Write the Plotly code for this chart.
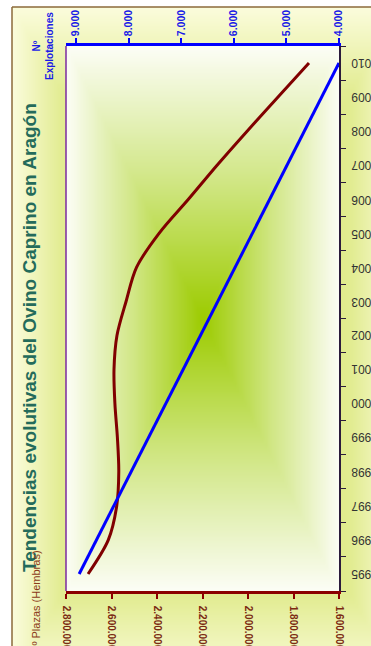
import numpy as np
import plotly.graph_objects as go

# ---------------- data ----------------
years = ["1995", "1996", "1997", "1998", "1999", "2000", "2001", "2002",
         "2003", "2004", "2005", "2006", "2007", "2008", "2009", "2010"]
plazas = [2703000, 2614000, 2577000, 2568000, 2574000, 2585000, 2589000, 2576000,
          2536000, 2490000, 2391000, 2262000, 2136000, 2004000, 1868000, 1732000]
explotaciones = [8940, 8611, 8281, 7952, 7623, 7294, 6964, 6635,
                 6306, 5976, 5647, 5318, 4988, 4659, 4329, 4000]
plazas_ticks = [1600000, 1800000, 2000000, 2200000, 2400000, 2600000, 2800000]
explot_ticks = [4000, 5000, 6000, 7000, 8000, 9000]
title_text = "Tendencias evolutivas del Ovino Caprino en Aragón"
plazas_title = "Nº Plazas (Hembras)"
explot_title = "Nº<br>Explotaciones"

# ---------------- geometry (pixels) ----------------
W, H = 371, 646
PL, PR, PT, PB = 66, 339, 46, 591
FONT = "Liberation Sans, Arial, sans-serif"

fig = go.Figure()

# chart-area background: rectangular gradient from centre
n_x, n_y = 90, 160
gx = 12 + (np.arange(n_x) + 0.5) * (W - 12) / n_x
gy = 7 + (np.arange(n_y) + 0.5) * (H - 7) / n_y
X, Y = np.meshgrid(gx, gy)
cx, cy, hw, hh = (12 + 400) / 2, (7 + 680) / 2, (400 - 12) / 2, (680 - 7) / 2
z_bg = 1 - np.maximum(np.abs(X - cx) / hw, np.abs(Y - cy) / hh)
fig.add_trace(go.Heatmap(
    x=gx, y=gy, z=z_bg, zsmooth="best", zmin=0, zmax=1, showscale=False,
    colorscale=[[0, "#fbfcdc"], [0.25, "#e2ec92"], [1, "#c4de3a"]],
    hoverinfo="skip", xaxis="x", yaxis="y"))

# plot-area background: rectangular gradient from centre
m_x, m_y = 80, 140
px = PL + (np.arange(m_x) + 0.5) * (PR - PL) / m_x
py = PT + (np.arange(m_y) + 0.5) * (PB - PT) / m_y
PX, PY = np.meshgrid(px, py)
pcx, pcy, phw, phh = (PL + PR) / 2, (PT + PB) / 2, (PR - PL) / 2, (PB - PT) / 2
z_pa = 1 - np.maximum(np.abs(PX - pcx) / phw, np.abs(PY - pcy) / phh)
fig.add_trace(go.Heatmap(
    x=px, y=py, z=z_pa, zsmooth="best", zmin=0, zmax=1, showscale=False,
    colorscale=[[0, "#fcfdf6"], [0.5, "#d0e683"], [1, "#9ccb00"]],
    hoverinfo="skip", xaxis="x", yaxis="y"))

# data lines
fig.add_trace(go.Scatter(
    x=plazas, y=years, xaxis="x2", yaxis="y2", mode="lines",
    line=dict(color="#800000", width=3, shape="spline", smoothing=0.9),
    name="Nº Plazas (Hembras)", showlegend=False))
fig.add_trace(go.Scatter(
    x=explotaciones, y=years, xaxis="x3", yaxis="y2", mode="lines",
    line=dict(color="#0000ff", width=3),
    name="Nº Explotaciones", showlegend=False))

annotations = []
for i, yr in enumerate(years):
    annotations.append(dict(
        x=349, xref="x", y=i, yref="y2", text=yr, textangle=180,
        xanchor="left", yanchor="middle", showarrow=False,
        font=dict(family=FONT, size=12, color="#333333")))
annotations.append(dict(
    x=29, y=338, xref="x", yref="y", text=title_text, textangle=-90,
    showarrow=False, xanchor="center", yanchor="middle",
    font=dict(family=FONT, size=19, color="#246b5b", weight="bold")))
annotations.append(dict(
    x=43, y=46, xref="x", yref="y", text=explot_title, textangle=-90,
    showarrow=False, xanchor="center", yanchor="middle", align="center",
    font=dict(family=FONT, size=10, color="#1a1ae6", weight="bold")))
annotations.append(dict(
    x=35, y=549, xref="x", yref="y", text=plazas_title, textangle=-90,
    showarrow=False, xanchor="center", yanchor="top",
    font=dict(family=FONT, size=11, color="#8b3a1a")))

shapes = [
    dict(type="line", xref="x", yref="y", x0=PL, x1=PL, y0=PT, y1=PB,
         line=dict(color="#7b2aa0", width=1.5)),
    dict(type="line", xref="x", yref="y", x0=12, x1=W, y0=7, y1=7,
         line=dict(color="#8b6a3a", width=1.5)),
    dict(type="line", xref="x", yref="y", x0=12, x1=12, y0=7, y1=H,
         line=dict(color="#8b6a3a", width=1.5)),
]

fig.update_layout(
    width=W, height=H,
    margin=dict(l=0, r=0, t=0, b=0, pad=0),
    paper_bgcolor="white", plot_bgcolor="rgba(0,0,0,0)",
    separators=",.",
    showlegend=False,
    xaxis=dict(domain=[0, 1], range=[0, W], visible=False, fixedrange=True),
    yaxis=dict(domain=[0, 1], range=[H, 0], visible=False, fixedrange=True),
    xaxis2=dict(
        domain=[PL / W, PR / W], anchor="y2", side="bottom",
        range=[2800000, 1600000], tickvals=plazas_ticks, tickformat=",d",
        tickangle=90, ticks="outside", ticklen=5, tickwidth=2, tickcolor="#8b0000",
        tickfont=dict(family=FONT, size=10, color="#7b2a12", weight="bold"),
        ticklabelstandoff=5,
        showline=True, linecolor="#8b0000", linewidth=2.5,
        showgrid=False, zeroline=False, automargin=False),
    xaxis3=dict(
        overlaying="x2", anchor="y2", side="top",
        range=[9190, 4000], tickvals=explot_ticks, tickformat=",d",
        tickangle=-90, ticks="outside", ticklen=5, tickwidth=2, tickcolor="#0000ff",
        tickfont=dict(family=FONT, size=10.5, color="#1a1ae6", weight="bold"),
        ticklabelstandoff=0,
        showline=True, linecolor="#0000ff", linewidth=2.5,
        showgrid=False, zeroline=False, automargin=False),
    yaxis2=dict(
        domain=[1 - PB / H, 1 - PT / H], anchor="x2", side="right",
        type="category", categoryorder="array", categoryarray=years,
        range=[-0.5, 15.5], tickson="boundaries", ticks="outside", ticklen=5,
        tickwidth=1, tickcolor="#2b1b3b", showticklabels=False,
        showline=True, linecolor="#2b1b3b", linewidth=1.5,
        showgrid=False, zeroline=False, automargin=False),
    annotations=annotations,
    shapes=shapes,
)

fig.write_html("out.html",
               config={"displayModeBar": False},
               post_script="document.body.style.margin='0';document.body.style.overflow='hidden';")
